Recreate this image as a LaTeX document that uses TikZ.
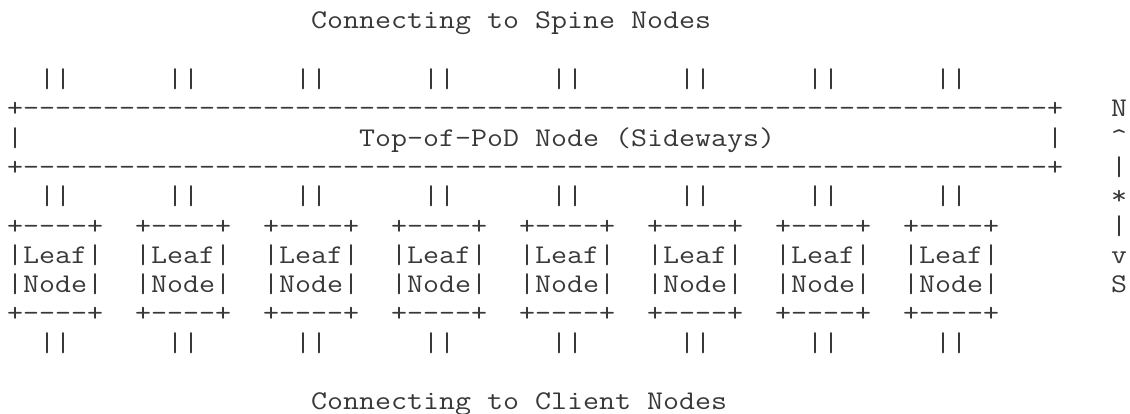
\documentclass[tikz,border=0pt]{standalone}
\usepackage{graphicx}

% one character cell of the ascii grid
\newlength{\chwd}
\setlength{\chwd}{8pt}
\makeatletter
\newcommand{\asc}[1]{\@tfor\asc@c:=#1\do{\makebox[\chwd]{\scalebox{1.15}[1]{\asc@c}}}}
\makeatother
\newcommand{\ascrep}[2]{\foreach \k in {1,...,#1}{\makebox[\chwd]{\scalebox{1.15}[1]{#2}}}}

\begin{document}
\begin{tikzpicture}[x=8pt, y=-14.65pt,
  ascii/.style={anchor=base west, inner sep=0pt, outer sep=0pt, text=black!78,
    font=\ttfamily\fontsize{13.5}{14.65}\selectfont}]
\useasboundingbox (-0.4375,-0.99) rectangle (70.1875,13.106);
% labels
\node[ascii] (spine) at (19,0) {\asc{Connecting~to~Spine~Nodes}};
\node[ascii] (client) at (19,13) {\asc{Connecting~to~Client~Nodes}};
% top-of-pod box
\node[ascii] (podtop) at (0,3) {\asc{+}\ascrep{64}{-}\asc{+}};
\node[ascii] (pod) at (0,4) {\asc{|}\ascrep{21}{~}\asc{Top-of-PoD~Node~(Sideways)}\ascrep{17}{~}\asc{|}};
\node[ascii] (podbot) at (0,5) {\asc{+}\ascrep{64}{-}\asc{+}};
% leaves with their links
\foreach \i in {1,...,8} {
  \node[ascii] (up\i) at ({8*\i-6},2) {\asc{||}};
  \node[ascii] (mid\i) at ({8*\i-6},6) {\asc{||}};
  \node[ascii] (leaftop\i) at ({8*\i-8},7) {\asc{+----+}};
  \node[ascii] (leaf\i) at ({8*\i-8},8) {\asc{|Leaf|}};
  \node[ascii] (node\i) at ({8*\i-8},9) {\asc{|Node|}};
  \node[ascii] (leafbot\i) at ({8*\i-8},10) {\asc{+----+}};
  \node[ascii] (down\i) at ({8*\i-6},11) {\asc{||}};
}
% north-south axis
\foreach \ch [count=\r from 3] in {N,\textasciicircum,|,*,|,v,S}
  \node[ascii] (axis\r) at (69,\r) {\asc{\ch}};
\end{tikzpicture}
\end{document}
